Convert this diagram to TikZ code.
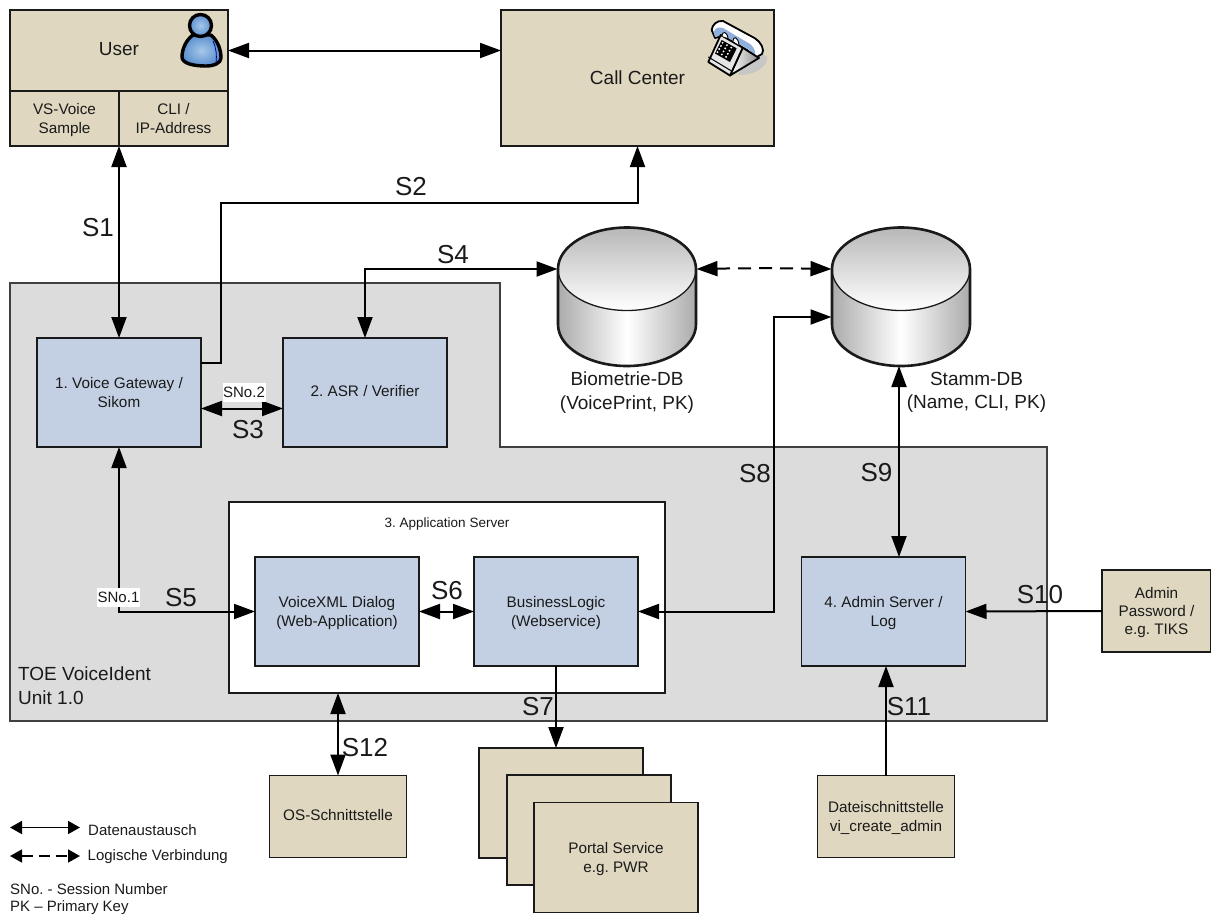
\documentclass[tikz,border=0pt]{standalone}
\usepackage{fontspec}
\setmainfont{Liberation Sans}
\usetikzlibrary{arrows.meta,calc}
\definecolor{tan}{HTML}{DFD7BF}
\definecolor{bluebox}{HTML}{C3D0E3}
\definecolor{grayzone}{HTML}{DCDCDC}
\definecolor{ink}{HTML}{1A1A1A}
\definecolor{iconlight}{HTML}{A6C8EA}
\definecolor{icondark}{HTML}{5C90CE}
\definecolor{handset}{HTML}{8FB0DC}
\newcommand{\fs}[1]{\fontsize{#1}{#1}\selectfont}
\newcommand{\dbcyl}[3]{%
  \node[minimum width=138pt,minimum height=139pt,inner sep=0pt,outer sep=0pt] (#1) at (#2,#3) {};
  \begin{scope}[shift={(#2,#3)}]
    \shade[left color=black!33,right color=black!33,middle color=white,draw=none]
      (-69,-27.5) -- (69,-27.5) -- (69,28) .. controls (69,50.9) and (38.1,69.5) .. (0,69.5)
      .. controls (-38.1,69.5) and (-69,50.9) .. (-69,28) -- cycle;
    \shade[top color=black!28,bottom color=white] (0,-27.5) ellipse [x radius=69,y radius=41.5];
    \draw[line width=1.3pt,ink] (0,-27.5) ellipse [x radius=69,y radius=41.5];
    \draw[line width=2.6pt,ink] (-69,-27.5) .. controls (-69,-50.4) and (-38.1,-69) .. (0,-69)
      .. controls (38.1,-69) and (69,-50.4) .. (69,-27.5) -- (69,28)
      .. controls (69,50.9) and (38.1,69.5) .. (0,69.5)
      .. controls (-38.1,69.5) and (-69,50.9) .. (-69,28) -- cycle;
    \coordinate (#1-l) at (-69.5,-27.5);
    \coordinate (#1-r) at (69.5,-27.5);
  \end{scope}}
\tikzset{
  x=1pt,y=-1pt,
  >={Triangle[length=21pt,width=15pt]},
  tanbox/.style={draw=ink,line width=1.5pt,fill=tan,text=ink,align=center,inner sep=0pt,outer sep=0pt,text depth=0pt,font=\fs{15.3}\linespread{1.2}\selectfont},
  bluebx/.style={draw=ink,line width=1.5pt,fill=bluebox,text=ink,align=center,inner sep=0pt,outer sep=0pt,text depth=0pt,font=\fs{15.3}\linespread{1.25}\selectfont},
  conn/.style={draw=black,line width=2pt},
  slabel/.style={text=ink,font=\fs{26},inner sep=0pt},
  dblabel/.style={text=ink,font=\fs{19}\linespread{1.22}\selectfont,align=center,inner sep=0pt},
  snobox/.style={fill=white,text=ink,font=\fs{15},inner sep=0pt,minimum width=43pt,minimum height=19pt},
  smalltxt/.style={text=ink,font=\fs{15},inner sep=0pt,anchor=west},
  legend/.style={draw=black,line width=1.6pt,>={Triangle[length=12pt,width=13pt]},<->},
}
\begin{document}
\frenchspacing
\begin{tikzpicture}
\useasboundingbox (0,0) rectangle (1211,916);
% TOE zone
\draw[fill=grayzone,draw=black!75,line width=1.5pt] (10,283) -- (500,283) -- (500,447) -- (1047,447) -- (1047,721) -- (10,721) -- cycle;
\node[text=ink,font=\fs{19}\linespread{1.27}\selectfont,align=left,anchor=west,inner sep=0pt] (toe) at (18,686) {TOE VoiceIdent\\Unit 1.0};
% Top boxes
\node[tanbox,minimum width=218pt,minimum height=81pt,font=\fs{19},text depth=3pt] (user) at (119,50.5) {User};
\node[tanbox,minimum width=109pt,minimum height=55pt] (vs) at (64.5,118.5) {VS-Voice\\Sample};
\node[tanbox,minimum width=109pt,minimum height=55pt] (cli) at (173.5,118.5) {CLI /\\IP-Address};
\node[tanbox,minimum width=273pt,minimum height=136pt,font=\fs{19},text depth=1pt] (cc) at (637.5,78) {Call Center};
% App server
\node[draw=ink,line width=1.5pt,fill=white,minimum width=436pt,minimum height=191pt,inner sep=0pt,outer sep=0pt] (app) at (447,597.5) {};
\node[text=ink,font=\fs{13.5},inner sep=0pt] (apptitle) at (447,524) {3. Application Server};
% Blue boxes
\node[bluebx,minimum width=164pt,minimum height=109pt] (vg) at (119,392.5) {1. Voice Gateway /\\Sikom};
\node[bluebx,minimum width=164pt,minimum height=109pt,text depth=3pt] (asr) at (365,392.5) {2. ASR / Verifier};
\node[bluebx,minimum width=164pt,minimum height=109pt] (vx) at (337,611.5) {VoiceXML Dialog\\(Web-Application)};
\node[bluebx,minimum width=164pt,minimum height=109pt] (bl) at (556,611.5) {BusinessLogic\\(Webservice)};
\node[bluebx,minimum width=164pt,minimum height=109pt] (admin) at (883.5,611.5) {4. Admin Server /\\Log};
% Tan lower boxes
\node[tanbox,minimum width=109pt,minimum height=82pt] (pw) at (1156.5,611) {Admin\\Password /\\e.g. TIKS};
\node[tanbox,minimum width=137pt,minimum height=82pt,text depth=3pt] (os) at (338,816.5) {OS-Schnittstelle};
\node[tanbox,minimum width=137pt,minimum height=82pt] (file) at (886,816.5) {Dateischnittstelle\\vi\_create\_admin};
\node[tanbox,minimum width=164pt,minimum height=110pt] (p1) at (561,803) {};
\node[tanbox,minimum width=164pt,minimum height=110pt] (p2) at (589,830) {};
\node[tanbox,minimum width=164pt,minimum height=110pt] (p3) at (616,857.5) {Portal Service\\e.g. PWR};
% Databases
\dbcyl{bio}{627}{296.5}
\dbcyl{stamm}{901}{296.5}
\node[dblabel] (biolabel) at (627,392.5) {Biometrie-DB\\(VoicePrint, PK)};
\node[dblabel] (stammlabel) at (976.5,392.5) {Stamm-DB\\(Name, CLI, PK)};
% Helper coordinates
\coordinate (s2s) at (201,363);
\coordinate (s2k) at (221,203);
\coordinate (s8k) at (774,400);
\coordinate (stammin) at (831.5,317);
\coordinate (s9a) at (899,366);
% Connectors
\draw[conn,<->] (user.east) -- (cc.west |- user.east);
\draw[conn,<->] (vs.south east) -- (vg.north);
\draw[conn,->] (s2s) -| (s2k) -| (cc.south);
\draw[conn,<->] (asr.north) |- (bio-l);
\draw[conn,<->] (vg.east |- 0,408.5) -- (asr.west |- 0,408.5);
\draw[conn,<->] (vg.south) |- (vx.west);
\draw[conn,<->] (vx.east) -- (bl.west);
\draw[conn,<->] (bl.east) -| (s8k) |- (stammin);
\draw[conn,<->] (s9a) -- (s9a |- admin.north);
\draw[conn,<-] (admin.east) -- (pw.west);
\draw[conn,<-] (file.north |- admin.south) -- (file.north);
\draw[conn,<->] (os.north |- app.south) -- (os.north);
\draw[conn,->] (bl.south) -- (bl.south |- p1.north);
\draw[conn,<->,dash pattern=on 13pt off 8pt] (bio-r) to[bend left=1] (stamm-l);
% Labels
\node[slabel] (ls1) at (98,228) {S1};
\node[slabel] (ls2) at (411,187) {S2};
\node[slabel] (ls3) at (248,430) {S3};
\node[slabel] (ls4) at (453,255) {S4};
\node[slabel] (ls5) at (181,598) {S5};
\node[slabel] (ls6) at (447,591) {S6};
\node[slabel] (ls7) at (538,707) {S7};
\node[slabel] (ls8) at (755,474) {S8};
\node[slabel] (ls9) at (876.5,473) {S9};
\node[slabel] (ls10) at (1040,595) {S10};
\node[slabel] (ls11) at (909,707) {S11};
\node[slabel] (ls12) at (365,748) {S12};
\node[snobox] (sno1) at (118.5,597.5) {SNo.1};
\node[snobox] (sno2) at (244,392.5) {SNo.2};
% Legend
\coordinate (la) at (10,827.5);
\coordinate (lb) at (80,827.5);
\coordinate (lc) at (10,856);
\coordinate (ld) at (80,856);
\draw[legend] (la) -- (lb);
\draw[legend,dash pattern=on 11pt off 6pt] (lc) -- (ld);
\node[smalltxt] (t1) at (88,830) {Datenaustausch};
\node[smalltxt] (t2) at (87.5,857) {Logische Verbindung};
\node[smalltxt] (t3) at (10,889) {SNo. - Session Number};
\node[smalltxt] (t4) at (10,908) {PK – Primary Key};
% User icon
\path[draw=black,line width=3.4pt,line join=round,shade,inner color=iconlight,outer color=icondark]
  (193,35) .. controls (186,40) and (182,49) .. (182,57) .. controls (182,63) and (192,66) .. (206,66)
  .. controls (214,66) and (221,63) .. (221,58) .. controls (221,50) and (218,41) .. (211,35) -- cycle;
\path[draw=black,line width=3.4pt,shade,inner color=iconlight,outer color=icondark]
  (200.5,25.5) circle [radius=11];
\draw[draw=blue!55!black,line width=.8pt] (213,41) .. controls (216,47) and (217,55) .. (216,63);
% Phone icon
\fill[black!22] (738,75) .. controls (752,76) and (768,68) .. (767,57) -- (755,50) -- cycle;
\draw[line width=1.8pt,line join=round,fill=white] (711.7,30) .. controls (712,25) and (717,20) .. (723,21)
  -- (755,38.3) .. controls (761,42) and (765,50) .. (762,54) -- (755,58) -- (747,50) -- (722,36) -- (715,38) -- cycle;
\fill[handset] (713.5,32) .. controls (716,27) and (719,27) .. (723,28) -- (750,44) .. controls (754,47) and (756,52) .. (755,56) -- (748,49) -- (722,35) -- (715,37) -- cycle;
\shade[left color=white,right color=black!45,draw=black,line width=1.8pt,line join=round] (742.7,47.7) -- (759,58) -- (730,75.5) -- cycle;
\draw[fill=black!10,line width=1.8pt,line join=round] (720.7,35) -- (742.7,47.7) -- (730,75.5) -- (708.3,62) -- cycle;
\draw[line width=1pt] (708.3,57) -- (731.5,71);
\draw[line width=.9pt,fill=white] (722,36) .. controls (722,31) and (727,31) .. (728,38) (733,41) .. controls (733,36) and (738,36) .. (739,45);
\fill[black] (721.7,40) -- (736.7,48.3) -- (730,62) -- (715,53.5) -- cycle;
\foreach \i in {0,1,2} \foreach \j in {0,1,2,3} {
  \fill[white] ($(722.6,42.8)+\i*(4.3,2.4)+\j*(-1.7,3.1)$) circle [radius=1.05];
}
\end{tikzpicture}
\end{document}
